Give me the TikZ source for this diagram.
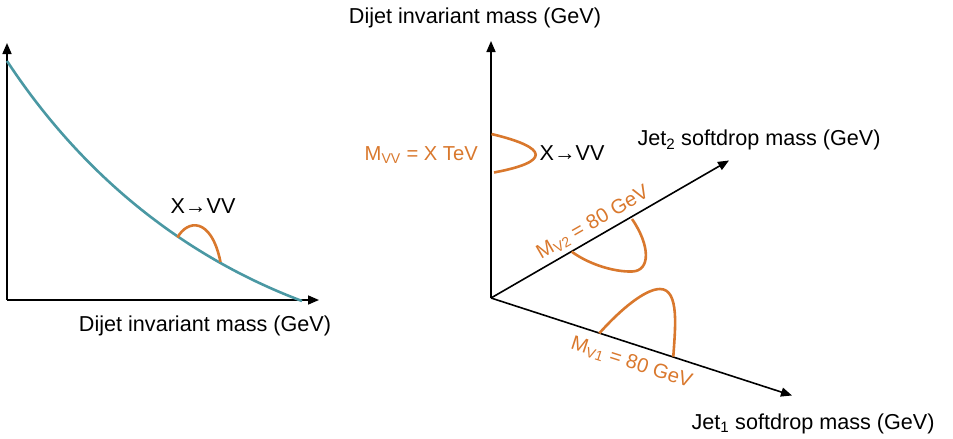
\documentclass[tikz,border=0pt]{standalone}
\usepackage{fontspec}
\setmainfont{Liberation Sans}
\usetikzlibrary{arrows.meta}
\definecolor{teal2}{RGB}{74,152,163}
\definecolor{orng}{RGB}{217,120,45}
\begin{document}
\begin{tikzpicture}[x=1pt,y=-1pt,
  axis/.style={line width=1.6pt,-{Triangle[length=11pt,width=9pt]}},
  peak/.style={draw=orng,line width=2.6pt},
  lbl/.style={font=\fontsize{21.6}{25}\selectfont,inner sep=0pt},
  olbl/.style={font=\fontsize{20.2}{24}\selectfont,inner sep=0pt,text=orng}]
\useasboundingbox (0,0) rectangle (953,439);
% left plot
\coordinate (LO) at (7,300);
\coordinate (LY) at (7,43);
\coordinate (LX) at (319,300);
\coordinate (C0) at (7,61);
\coordinate (C1) at (302,301);
\coordinate (B0) at (177.5,237.5);
\coordinate (B1) at (220.5,262);
\draw[axis] (LO) -- (LY);
\draw[axis] (LO) -- (LX);
\draw[draw=teal2,line width=2.6pt] (C0) .. controls (80,172) and (180,255) .. (C1);
\draw[peak] (B0) .. controls (187,220) and (211,216) .. (B1);
\node[lbl] (lx) at (205,326) {Dijet invariant mass (GeV)};
\node[lbl] (lsig) at (203,206) {X→VV};
% right plot
\coordinate (O) at (491,298);
\coordinate (Z) at (491,41);
\coordinate (J2) at (729,160.5);
\coordinate (J1) at (792,395.5);
\draw[axis] (O) -- (Z);
\draw[axis] (O) -- (J2);
\draw[axis] (O) -- (J1);
\node[lbl] (zl) at (475,18) {Dijet invariant mass (GeV)};
\node[lbl] (j2l) at (759,140) {Jet\textsubscript{2} softdrop mass (GeV)};
\node[lbl] (j1l) at (813,424) {Jet\textsubscript{1} softdrop mass (GeV)};
% vertical peak
\coordinate (V0) at (491.5,134);
\coordinate (V1) at (494,172.5);
\draw[peak] (V0) .. controls (550,148) and (550,162) .. (V1);
\node[olbl,anchor=east] (mvv) at (478,155) {M\textsubscript{VV} = X TeV};
\node[lbl] (rsig) at (572,153) {X→VV};
% jet2 peak
\coordinate (P0) at (571.7,251.7);
\coordinate (P1) at (632,271.5);
\coordinate (P2) at (632,219);
\draw[peak] (P0) .. controls (590,265) and (615,272) .. (P1) .. controls (651,271) and (650,245) .. (P2);
\node[olbl,rotate=30] (mv2) at (593,223) {M\textsubscript{V2} = 80 GeV};
% jet1 peak
\coordinate (Q0) at (599.3,333.3);
\coordinate (Q1) at (660,289);
\coordinate (Q2) at (673.3,356.7);
\draw[peak] (Q0) .. controls (620,310) and (645,289) .. (Q1) .. controls (680,289) and (675,330) .. (Q2);
\node[olbl,rotate=-17.9] (mv1) at (631.5,363) {M\textsubscript{V1} = 80 GeV};
\end{tikzpicture}
\end{document}
